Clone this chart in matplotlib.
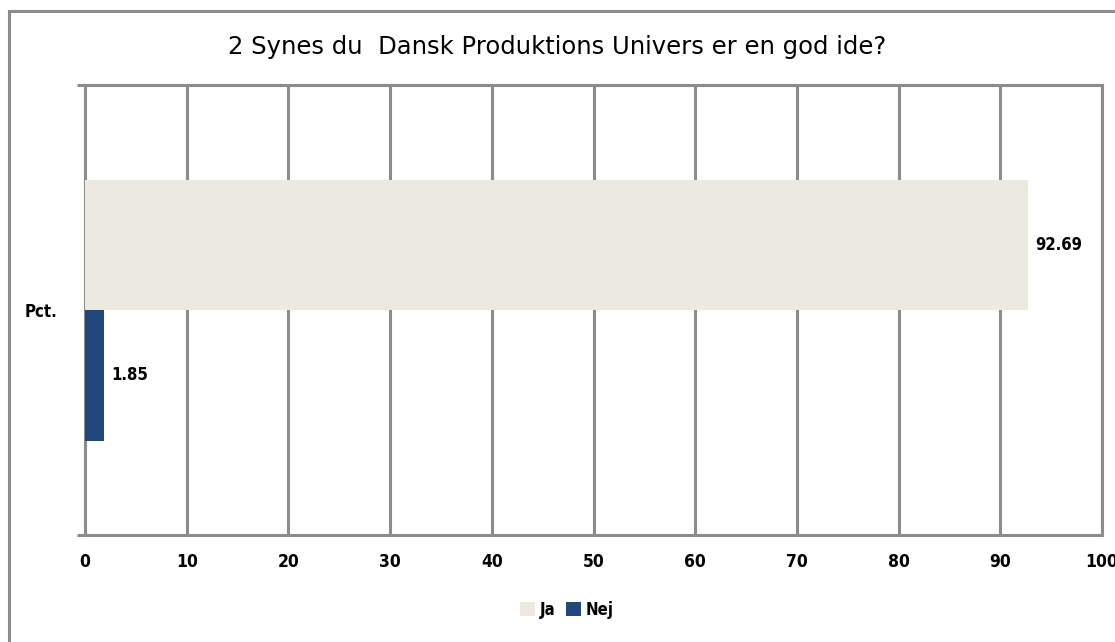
import matplotlib as mpl

mpl.use('Agg')
import matplotlib.pyplot as plt
from matplotlib.patches import Rectangle
from matplotlib.font_manager import FontProperties

# data
title = "2 Synes du  Dansk Produktions Univers er en god ide?"
category = "Pct."
series = ["Ja", "Nej"]
values = [92.69, 1.85]
colors = ["#ECEAE0", "#1F497D"]
xticks = list(range(0, 101, 10))

grid_col = "#8C8C8C"


def lab_font(size=12.5):
    return FontProperties(family="DejaVu Sans", weight="bold",
                          stretch="condensed", size=size)


fig = plt.figure(figsize=(11.15, 6.42), dpi=100)
fig.patch.set_facecolor("white")

# outer frame (cut at right and bottom like the original)
fig.patches.append(Rectangle((9 / 1115, -0.1), 1.2, (631 / 642) + 0.1,
                             transform=fig.transFigure, fill=False,
                             edgecolor=grid_col, linewidth=2.2))

ax = fig.add_axes([85 / 1115, 107 / 642, 1017 / 1115, 450 / 642])

bar_h = 0.29
offsets = [bar_h / 2, -bar_h / 2]
for name, v, c, off in zip(series, values, colors, offsets):
    ax.barh(off, v, height=bar_h, color=c, label=name, zorder=3)
    ax.text(v + 0.7, off, f"{v:.2f}", va="center", ha="left",
            fontproperties=lab_font(12), zorder=4)

ax.set_xlim(0, 100)
ax.set_ylim(-0.5, 0.5)
ax.set_xticks(xticks)
ax.set_xticklabels([str(t) for t in xticks], fontproperties=lab_font())
ax.tick_params(axis="x", length=0, pad=13)

ax.set_yticks([-0.5, 0.5])
ax.set_yticklabels(["", ""])
ax.tick_params(axis="y", length=6, width=2.2, color=grid_col, direction="out")
ax.set_yticks([0], minor=True)
ax.set_yticklabels([category], minor=True, fontproperties=lab_font(12))
ax.tick_params(axis="y", which="minor", length=0, pad=20)

ax.grid(axis="x", color=grid_col, linewidth=2.2, zorder=1)
for s in ax.spines.values():
    s.set_color(grid_col)
    s.set_linewidth(2.2)

fig.text(0.5, (642 - 47) / 642, title, ha="center", va="center",
         fontsize=17.5, family="DejaVu Sans")

fig.legend(loc="center", bbox_to_anchor=(567 / 1115, (642 - 610) / 642),
           ncol=2, frameon=False, handlelength=0.9, handleheight=0.9,
           handletextpad=0.3, columnspacing=0.6, prop=lab_font(12))

fig.savefig("out.png", dpi=100)
